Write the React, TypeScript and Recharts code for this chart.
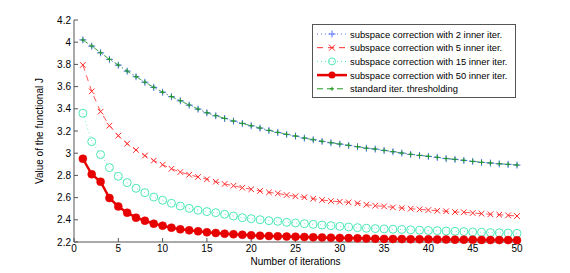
import { LineChart, Line, XAxis, YAxis, Legend } from 'recharts';

const iterations = [
  1, 2, 3, 4, 5, 6, 7, 8, 9, 10, 11, 12, 13, 14, 15, 16, 17, 18, 19, 20, 21, 22, 23, 24, 25,
  26, 27, 28, 29, 30, 31, 32, 33, 34, 35, 36, 37, 38, 39, 40, 41, 42, 43, 44, 45, 46, 47, 48, 49, 50,
];

const inner2 = [
  4.021, 3.964, 3.904, 3.845, 3.793, 3.739, 3.689, 3.639, 3.593, 3.549, 3.509, 3.472, 3.433, 3.397, 3.364,
  3.337, 3.313, 3.289, 3.268, 3.247, 3.226, 3.205, 3.187, 3.169, 3.154, 3.136, 3.121, 3.106, 3.094, 3.082,
  3.070, 3.058, 3.045, 3.037, 3.025, 3.013, 3.001, 2.989, 2.980, 2.971, 2.962, 2.951, 2.944, 2.935, 2.926,
  2.917, 2.911, 2.904, 2.899, 2.893,
];

const inner5 = [
  3.795, 3.557, 3.374, 3.248, 3.158, 3.086, 3.029, 2.978, 2.933, 2.896, 2.86, 2.83, 2.806, 2.786, 2.765,
  2.743, 2.723, 2.707, 2.689, 2.675, 2.66, 2.647, 2.638, 2.623, 2.612, 2.603, 2.59, 2.578, 2.569, 2.563,
  2.557, 2.549, 2.536, 2.527, 2.521, 2.512, 2.506, 2.5, 2.494, 2.488, 2.482, 2.477, 2.47, 2.468, 2.461,
  2.455, 2.45, 2.446, 2.44, 2.434,
];

const inner15 = [
  3.36, 3.104, 2.987, 2.87, 2.792, 2.735, 2.684, 2.644, 2.605, 2.576, 2.549, 2.524, 2.503, 2.486, 2.474,
  2.464, 2.45, 2.434, 2.419, 2.41, 2.401, 2.392, 2.386, 2.377, 2.371, 2.365, 2.359, 2.353, 2.347, 2.341,
  2.335, 2.329, 2.324, 2.321, 2.318, 2.315, 2.313, 2.31, 2.307, 2.304, 2.302, 2.299, 2.296, 2.294, 2.29,
  2.288, 2.285, 2.283, 2.281, 2.278,
];

const inner50 = [
  2.95, 2.81, 2.743, 2.596, 2.52, 2.464, 2.419, 2.392, 2.365, 2.347, 2.329, 2.314, 2.305, 2.296, 2.287,
  2.281, 2.275, 2.27, 2.265, 2.26, 2.257, 2.254, 2.251, 2.249, 2.248, 2.245, 2.243, 2.241, 2.239, 2.237,
  2.235, 2.233, 2.231, 2.229, 2.228, 2.227, 2.226, 2.225, 2.224, 2.224, 2.223, 2.222, 2.221, 2.221, 2.22,
  2.219, 2.218, 2.218, 2.217, 2.216,
];

const standard = [
  4.02, 3.966, 3.905, 3.846, 3.795, 3.74, 3.69, 3.64, 3.594, 3.55, 3.51, 3.473, 3.434, 3.398, 3.365,
  3.338, 3.314, 3.29, 3.269, 3.248, 3.227, 3.206, 3.188, 3.17, 3.155, 3.137, 3.122, 3.107, 3.095, 3.083,
  3.071, 3.059, 3.046, 3.038, 3.026, 3.014, 3.002, 2.99, 2.981, 2.972, 2.963, 2.952, 2.945, 2.936, 2.927,
  2.918, 2.912, 2.905, 2.9, 2.894,
];

const xTicks = [0, 5, 10, 15, 20, 25, 30, 35, 40, 45, 50];
const yTicks = [2.2, 2.4, 2.6, 2.8, 3, 3.2, 3.4, 3.6, 3.8, 4, 4.2];

const data = iterations.map((it, i) => ({
  it,
  s2: inner2[i],
  s5: inner5[i],
  s15: inner15[i],
  s50: inner50[i],
  std: standard[i],
}));

const BLUE = '#5570ff';
const RED = '#ff2a2a';
const CYAN = '#4de8b8';
const RED_BOLD = '#e60000';
const GREEN = '#1f9a1f';
const AXIS = '#555';
const FONT = 'Liberation Sans, Arial, sans-serif';

const plus = (r: number, color: string, w = 1) => (p: any) => (
  <path
    key={`p${p.index}`}
    d={`M${p.cx - r},${p.cy}H${p.cx + r}M${p.cx},${p.cy - r}V${p.cy + r}`}
    stroke={color}
    strokeWidth={w}
    fill="none"
  />
);

const cross = (r: number, color: string) => (p: any) => (
  <path
    key={`x${p.index}`}
    d={`M${p.cx - r},${p.cy - r}L${p.cx + r},${p.cy + r}M${p.cx - r},${p.cy + r}L${p.cx + r},${p.cy - r}`}
    stroke={color}
    strokeWidth={1}
    fill="none"
  />
);

const legendRows = [
  { label: 'subspace correction with 2 inner iter.', color: BLUE, dash: '1 3', width: 1, marker: 'plus' },
  { label: 'subspace correction with 5 inner iter.', color: RED, dash: '6 5', width: 1, marker: 'cross' },
  { label: 'subspace correction with 15 inner iter.', color: CYAN, dash: '1 3', width: 1, marker: 'circle' },
  { label: 'subspace correction with 50 inner iter.', color: RED_BOLD, dash: undefined, width: 2.5, marker: 'dot' },
  { label: 'standard iter. thresholding', color: GREEN, dash: '6 4', width: 1, marker: 'smallplus' },
];

function LegendBox() {
  return (
    <svg width={204} height={74} style={{ display: 'block' }}>
      <rect x={0.5} y={0.5} width={203} height={73} fill="#fff" stroke={AXIS} />
      {legendRows.map((row, i) => {
        const y = 10 + i * 13.7;
        const cx = 20;
        return (
          <g key={row.label}>
            <line x1={5} x2={35} y1={y} y2={y} stroke={row.color} strokeWidth={row.width} strokeDasharray={row.dash} />
            {row.marker === 'plus' && (
              <path d={`M${cx - 3.5},${y}H${cx + 3.5}M${cx},${y - 3.5}V${y + 3.5}`} stroke={row.color} />
            )}
            {row.marker === 'cross' && (
              <path d={`M${cx - 3},${y - 3}L${cx + 3},${y + 3}M${cx - 3},${y + 3}L${cx + 3},${y - 3}`} stroke={row.color} />
            )}
            {row.marker === 'circle' && <circle cx={cx} cy={y} r={3.5} fill="none" stroke={row.color} />}
            {row.marker === 'dot' && <circle cx={cx} cy={y} r={3.5} fill={row.color} />}
            {row.marker === 'smallplus' && (
              <path d={`M${cx - 2},${y}H${cx + 2}M${cx},${y - 2}V${y + 2}`} stroke={row.color} />
            )}
            <text x={38} y={y + 3.5} fontSize={9.4} fontFamily={FONT} fill="#000">
              {row.label}
            </text>
          </g>
        );
      })}
    </svg>
  );
}

export default function App() {
  const tickStyle = { fontSize: 10, fill: '#000', fontFamily: FONT };
  return (
    <div style={{ position: 'absolute', left: 0, top: 0, width: 570, height: 273, background: '#fff' }}>
      <LineChart width={570} height={273} data={data} margin={{ top: 20, right: 53, bottom: 0, left: 0 }}>
        <XAxis
          dataKey="it"
          type="number"
          domain={[0, 50]}
          ticks={xTicks}
          height={31}
          tickSize={-4}
          tickMargin={7}
          stroke={AXIS}
          tick={tickStyle}
          label={{ value: 'Number of iterations', position: 'insideBottom', offset: 8, fontSize: 10, fill: '#000', fontFamily: FONT }}
        />
        <XAxis
          xAxisId="top"
          dataKey="it"
          type="number"
          orientation="top"
          domain={[0, 50]}
          ticks={xTicks}
          height={0}
          tickSize={-4}
          stroke={AXIS}
          tick={false}
        />
        <YAxis
          type="number"
          domain={[2.2, 4.2]}
          ticks={yTicks}
          width={74}
          tickSize={-4}
          tickMargin={7}
          stroke={AXIS}
          tick={tickStyle}
          tickFormatter={(v: number) => String(+v.toFixed(1))}
          label={{ value: 'Value of the functional J', angle: -90, position: 'center', dx: 2, fontSize: 10, fill: '#000', fontFamily: FONT }}
        />
        <YAxis
          yAxisId="right"
          type="number"
          orientation="right"
          domain={[2.2, 4.2]}
          ticks={yTicks}
          width={0}
          tickSize={-4}
          stroke={AXIS}
          tick={false}
        />
        <Legend
          layout="vertical"
          align="center"
          verticalAlign="middle"
          content={() => <LegendBox />}
          wrapperStyle={{ position: 'absolute', left: 312, top: 24, width: 204, height: 74 }}
        />
        <Line
          dataKey="s2"
          stroke={BLUE}
          strokeWidth={0.8}
          strokeDasharray="1 3"
          dot={plus(3.5, BLUE)}
          isAnimationActive={false}
        />
        <Line
          dataKey="s5"
          stroke={RED}
          strokeWidth={0.8}
          strokeDasharray="6 5"
          dot={cross(2.8, RED)}
          isAnimationActive={false}
        />
        <Line
          dataKey="s15"
          stroke={CYAN}
          strokeWidth={0.8}
          strokeDasharray="1 3"
          dot={{ r: 4, fill: 'none', stroke: CYAN, strokeWidth: 1, strokeDasharray: '' }}
          isAnimationActive={false}
        />
        <Line
          dataKey="s50"
          stroke={RED_BOLD}
          strokeWidth={2.5}
          dot={{ r: 4, fill: RED_BOLD, stroke: RED_BOLD, strokeWidth: 0.5 }}
          isAnimationActive={false}
        />
        <Line
          dataKey="std"
          stroke={GREEN}
          strokeWidth={0.8}
          strokeDasharray="6 3 1 3"
          dot={plus(2.3, GREEN)}
          isAnimationActive={false}
        />
      </LineChart>
    </div>
  );
}
